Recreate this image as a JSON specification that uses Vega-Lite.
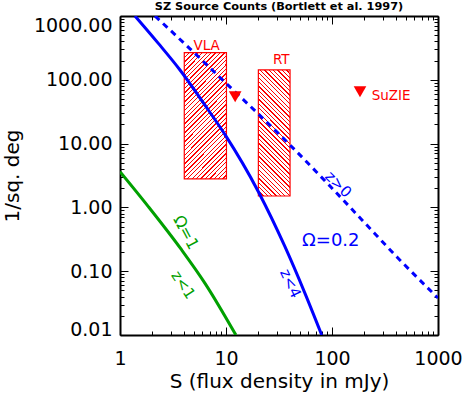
{
"$schema": "https://vega.github.io/schema/vega-lite/v6.json",
"width": 318, "height": 319,
"autosize": {"type": "none"},
"padding": {"left": 120, "top": 16, "right": 25, "bottom": 59},
"background": "white",
"config": {"view": {"stroke": null}, "font": "DejaVu Sans"},
"title": {"text": "SZ Source Counts (Bortlett et al. 1997)", "font": "DejaVu Sans", "fontSize": 11.3, "fontWeight": "bold", "color": "black", "anchor": "middle", "frame": "group", "baseline": "alphabetic", "offset": 4, "dy": 15},
"resolve": {"axis": {"x": "independent", "y": "independent"}},
"datasets": {
 "boxes": [
  {"box": "VLA", "S": 4.04, "S2": 10.1, "N": 2.79, "N2": 266},
  {"box": "RT", "S": 20.2, "S2": 40.2, "N": 1.51, "N2": 142.6}
 ],
 "curves": [
  {"series": "omega02", "S": 1.385, "N": 1000},
  {"series": "omega02", "S": 2.30, "N": 372},
  {"series": "omega02", "S": 3.68, "N": 142.6},
  {"series": "omega02", "S": 6.81, "N": 33.6},
  {"series": "omega02", "S": 9.79, "N": 13.8},
  {"series": "omega02", "S": 20.2, "N": 1.76},
  {"series": "omega02", "S": 36.0, "N": 0.242},
  {"series": "omega02", "S": 55.6, "N": 0.045},
  {"series": "omega02", "S": 80, "N": 0.01},
  {"series": "z0", "S": 2.14, "N": 1000},
  {"series": "z0", "S": 4.58, "N": 306},
  {"series": "z0", "S": 8.78, "N": 108.6},
  {"series": "z0", "S": 20.0, "N": 29.5},
  {"series": "z0", "S": 40.2, "N": 9.5},
  {"series": "z0", "S": 95.7, "N": 2.16},
  {"series": "z0", "S": 196, "N": 0.612},
  {"series": "z0", "S": 410, "N": 0.167},
  {"series": "z0", "S": 1000, "N": 0.038},
  {"series": "omega1", "S": 1, "N": 3.63},
  {"series": "omega1", "S": 1.85, "N": 1.03},
  {"series": "omega1", "S": 3.82, "N": 0.215},
  {"series": "omega1", "S": 6.34, "N": 0.0646},
  {"series": "omega1", "S": 12.4, "N": 0.01}
 ],
 "points": [
  {"S": 12.2, "N": 54.2},
  {"S": 183.7, "N": 64.9}
 ],
 "labels": [
  {"label": "VLA", "S": 6.57, "N": 343},
  {"label": "RT", "S": 33.2, "N": 207},
  {"label": "SuZIE", "S": 237, "N": 55.7},
  {"label": "Ω=0.2", "S": 97.4, "N": 0.297},
  {"label": "z>0", "S": 114.7, "N": 2.30},
  {"label": "z<4", "S": 40.6, "N": 0.064},
  {"label": "Ω=1", "S": 4.18, "N": 0.404},
  {"label": "z<1", "S": 3.96, "N": 0.0608}
 ]
},
"layer": [
 {
  "data": {"name": "boxes"},
  "transform": [{"filter": "datum.box == 'VLA'"}],
  "mark": {"type": "rect", "stroke": "#f00", "strokeWidth": 1.2, "fill": {"gradient": "linear", "x1": 0, "y1": 0, "x2": 0.403, "y2": 1.2, "stops": [
{"offset":0,"color":"#f00"},{"offset":0.0079,"color":"#f00"},{"offset":0.0079,"color":"#fff"},{"offset":0.0263,"color":"#fff"},
{"offset":0.0263,"color":"#f00"},{"offset":0.0342,"color":"#f00"},{"offset":0.0342,"color":"#fff"},{"offset":0.0526,"color":"#fff"},
{"offset":0.0526,"color":"#f00"},{"offset":0.0605,"color":"#f00"},{"offset":0.0605,"color":"#fff"},{"offset":0.0789,"color":"#fff"},
{"offset":0.0789,"color":"#f00"},{"offset":0.0868,"color":"#f00"},{"offset":0.0868,"color":"#fff"},{"offset":0.1053,"color":"#fff"},
{"offset":0.1053,"color":"#f00"},{"offset":0.1132,"color":"#f00"},{"offset":0.1132,"color":"#fff"},{"offset":0.1316,"color":"#fff"},
{"offset":0.1316,"color":"#f00"},{"offset":0.1395,"color":"#f00"},{"offset":0.1395,"color":"#fff"},{"offset":0.1579,"color":"#fff"},
{"offset":0.1579,"color":"#f00"},{"offset":0.1658,"color":"#f00"},{"offset":0.1658,"color":"#fff"},{"offset":0.1842,"color":"#fff"},
{"offset":0.1842,"color":"#f00"},{"offset":0.1921,"color":"#f00"},{"offset":0.1921,"color":"#fff"},{"offset":0.2105,"color":"#fff"},
{"offset":0.2105,"color":"#f00"},{"offset":0.2184,"color":"#f00"},{"offset":0.2184,"color":"#fff"},{"offset":0.2368,"color":"#fff"},
{"offset":0.2368,"color":"#f00"},{"offset":0.2447,"color":"#f00"},{"offset":0.2447,"color":"#fff"},{"offset":0.2632,"color":"#fff"},
{"offset":0.2632,"color":"#f00"},{"offset":0.2711,"color":"#f00"},{"offset":0.2711,"color":"#fff"},{"offset":0.2895,"color":"#fff"},
{"offset":0.2895,"color":"#f00"},{"offset":0.2974,"color":"#f00"},{"offset":0.2974,"color":"#fff"},{"offset":0.3158,"color":"#fff"},
{"offset":0.3158,"color":"#f00"},{"offset":0.3237,"color":"#f00"},{"offset":0.3237,"color":"#fff"},{"offset":0.3421,"color":"#fff"},
{"offset":0.3421,"color":"#f00"},{"offset":0.35,"color":"#f00"},{"offset":0.35,"color":"#fff"},{"offset":0.3684,"color":"#fff"},
{"offset":0.3684,"color":"#f00"},{"offset":0.3763,"color":"#f00"},{"offset":0.3763,"color":"#fff"},{"offset":0.3947,"color":"#fff"},
{"offset":0.3947,"color":"#f00"},{"offset":0.4026,"color":"#f00"},{"offset":0.4026,"color":"#fff"},{"offset":0.4211,"color":"#fff"},
{"offset":0.4211,"color":"#f00"},{"offset":0.429,"color":"#f00"},{"offset":0.429,"color":"#fff"},{"offset":0.4474,"color":"#fff"},
{"offset":0.4474,"color":"#f00"},{"offset":0.4553,"color":"#f00"},{"offset":0.4553,"color":"#fff"},{"offset":0.4737,"color":"#fff"},
{"offset":0.4737,"color":"#f00"},{"offset":0.4816,"color":"#f00"},{"offset":0.4816,"color":"#fff"},{"offset":0.5,"color":"#fff"},
{"offset":0.5,"color":"#f00"},{"offset":0.5079,"color":"#f00"},{"offset":0.5079,"color":"#fff"},{"offset":0.5263,"color":"#fff"},
{"offset":0.5263,"color":"#f00"},{"offset":0.5342,"color":"#f00"},{"offset":0.5342,"color":"#fff"},{"offset":0.5526,"color":"#fff"},
{"offset":0.5526,"color":"#f00"},{"offset":0.5605,"color":"#f00"},{"offset":0.5605,"color":"#fff"},{"offset":0.5789,"color":"#fff"},
{"offset":0.5789,"color":"#f00"},{"offset":0.5868,"color":"#f00"},{"offset":0.5868,"color":"#fff"},{"offset":0.6053,"color":"#fff"},
{"offset":0.6053,"color":"#f00"},{"offset":0.6132,"color":"#f00"},{"offset":0.6132,"color":"#fff"},{"offset":0.6316,"color":"#fff"},
{"offset":0.6316,"color":"#f00"},{"offset":0.6395,"color":"#f00"},{"offset":0.6395,"color":"#fff"},{"offset":0.6579,"color":"#fff"},
{"offset":0.6579,"color":"#f00"},{"offset":0.6658,"color":"#f00"},{"offset":0.6658,"color":"#fff"},{"offset":0.6842,"color":"#fff"},
{"offset":0.6842,"color":"#f00"},{"offset":0.6921,"color":"#f00"},{"offset":0.6921,"color":"#fff"},{"offset":0.7105,"color":"#fff"},
{"offset":0.7105,"color":"#f00"},{"offset":0.7184,"color":"#f00"},{"offset":0.7184,"color":"#fff"},{"offset":0.7368,"color":"#fff"},
{"offset":0.7368,"color":"#f00"},{"offset":0.7447,"color":"#f00"},{"offset":0.7447,"color":"#fff"},{"offset":0.7632,"color":"#fff"},
{"offset":0.7632,"color":"#f00"},{"offset":0.7711,"color":"#f00"},{"offset":0.7711,"color":"#fff"},{"offset":0.7895,"color":"#fff"},
{"offset":0.7895,"color":"#f00"},{"offset":0.7974,"color":"#f00"},{"offset":0.7974,"color":"#fff"},{"offset":0.8158,"color":"#fff"},
{"offset":0.8158,"color":"#f00"},{"offset":0.8237,"color":"#f00"},{"offset":0.8237,"color":"#fff"},{"offset":0.8421,"color":"#fff"},
{"offset":0.8421,"color":"#f00"},{"offset":0.85,"color":"#f00"},{"offset":0.85,"color":"#fff"},{"offset":0.8684,"color":"#fff"},
{"offset":0.8684,"color":"#f00"},{"offset":0.8763,"color":"#f00"},{"offset":0.8763,"color":"#fff"},{"offset":0.8947,"color":"#fff"},
{"offset":0.8947,"color":"#f00"},{"offset":0.9026,"color":"#f00"},{"offset":0.9026,"color":"#fff"},{"offset":0.9211,"color":"#fff"},
{"offset":0.9211,"color":"#f00"},{"offset":0.929,"color":"#f00"},{"offset":0.929,"color":"#fff"},{"offset":0.9474,"color":"#fff"},
{"offset":0.9474,"color":"#f00"},{"offset":0.9553,"color":"#f00"},{"offset":0.9553,"color":"#fff"},{"offset":0.9737,"color":"#fff"},
{"offset":0.9737,"color":"#f00"},{"offset":0.9816,"color":"#f00"},{"offset":0.9816,"color":"#fff"},{"offset":1,"color":"#fff"}
  ]}},
  "encoding": {
   "x": {"field": "S", "type": "quantitative", "scale": {"type": "log", "domain": [1, 1000], "nice": false}, "axis": null},
   "x2": {"field": "S2"},
   "y": {"field": "N", "type": "quantitative", "scale": {"type": "log", "domain": [0.01, 1000], "nice": false}, "axis": null},
   "y2": {"field": "N2"}
  }
 },
 {
  "data": {"name": "boxes"},
  "transform": [{"filter": "datum.box == 'RT'"}],
  "mark": {"type": "rect", "stroke": "#f00", "strokeWidth": 1.2, "fill": {"gradient": "linear", "x1": 0, "y1": 1, "x2": 0.296, "y2": -0.177, "stops": [
{"offset":0,"color":"#f00"},{"offset":0.0083,"color":"#f00"},{"offset":0.0083,"color":"#fff"},{"offset":0.0278,"color":"#fff"},
{"offset":0.0278,"color":"#f00"},{"offset":0.0361,"color":"#f00"},{"offset":0.0361,"color":"#fff"},{"offset":0.0556,"color":"#fff"},
{"offset":0.0556,"color":"#f00"},{"offset":0.0639,"color":"#f00"},{"offset":0.0639,"color":"#fff"},{"offset":0.0833,"color":"#fff"},
{"offset":0.0833,"color":"#f00"},{"offset":0.0916,"color":"#f00"},{"offset":0.0916,"color":"#fff"},{"offset":0.1111,"color":"#fff"},
{"offset":0.1111,"color":"#f00"},{"offset":0.1194,"color":"#f00"},{"offset":0.1194,"color":"#fff"},{"offset":0.1389,"color":"#fff"},
{"offset":0.1389,"color":"#f00"},{"offset":0.1472,"color":"#f00"},{"offset":0.1472,"color":"#fff"},{"offset":0.1667,"color":"#fff"},
{"offset":0.1667,"color":"#f00"},{"offset":0.175,"color":"#f00"},{"offset":0.175,"color":"#fff"},{"offset":0.1944,"color":"#fff"},
{"offset":0.1944,"color":"#f00"},{"offset":0.2027,"color":"#f00"},{"offset":0.2027,"color":"#fff"},{"offset":0.2222,"color":"#fff"},
{"offset":0.2222,"color":"#f00"},{"offset":0.2305,"color":"#f00"},{"offset":0.2305,"color":"#fff"},{"offset":0.25,"color":"#fff"},
{"offset":0.25,"color":"#f00"},{"offset":0.2583,"color":"#f00"},{"offset":0.2583,"color":"#fff"},{"offset":0.2778,"color":"#fff"},
{"offset":0.2778,"color":"#f00"},{"offset":0.2861,"color":"#f00"},{"offset":0.2861,"color":"#fff"},{"offset":0.3056,"color":"#fff"},
{"offset":0.3056,"color":"#f00"},{"offset":0.3139,"color":"#f00"},{"offset":0.3139,"color":"#fff"},{"offset":0.3333,"color":"#fff"},
{"offset":0.3333,"color":"#f00"},{"offset":0.3416,"color":"#f00"},{"offset":0.3416,"color":"#fff"},{"offset":0.3611,"color":"#fff"},
{"offset":0.3611,"color":"#f00"},{"offset":0.3694,"color":"#f00"},{"offset":0.3694,"color":"#fff"},{"offset":0.3889,"color":"#fff"},
{"offset":0.3889,"color":"#f00"},{"offset":0.3972,"color":"#f00"},{"offset":0.3972,"color":"#fff"},{"offset":0.4167,"color":"#fff"},
{"offset":0.4167,"color":"#f00"},{"offset":0.425,"color":"#f00"},{"offset":0.425,"color":"#fff"},{"offset":0.4444,"color":"#fff"},
{"offset":0.4444,"color":"#f00"},{"offset":0.4527,"color":"#f00"},{"offset":0.4527,"color":"#fff"},{"offset":0.4722,"color":"#fff"},
{"offset":0.4722,"color":"#f00"},{"offset":0.4805,"color":"#f00"},{"offset":0.4805,"color":"#fff"},{"offset":0.5,"color":"#fff"},
{"offset":0.5,"color":"#f00"},{"offset":0.5083,"color":"#f00"},{"offset":0.5083,"color":"#fff"},{"offset":0.5278,"color":"#fff"},
{"offset":0.5278,"color":"#f00"},{"offset":0.5361,"color":"#f00"},{"offset":0.5361,"color":"#fff"},{"offset":0.5556,"color":"#fff"},
{"offset":0.5556,"color":"#f00"},{"offset":0.5639,"color":"#f00"},{"offset":0.5639,"color":"#fff"},{"offset":0.5833,"color":"#fff"},
{"offset":0.5833,"color":"#f00"},{"offset":0.5916,"color":"#f00"},{"offset":0.5916,"color":"#fff"},{"offset":0.6111,"color":"#fff"},
{"offset":0.6111,"color":"#f00"},{"offset":0.6194,"color":"#f00"},{"offset":0.6194,"color":"#fff"},{"offset":0.6389,"color":"#fff"},
{"offset":0.6389,"color":"#f00"},{"offset":0.6472,"color":"#f00"},{"offset":0.6472,"color":"#fff"},{"offset":0.6667,"color":"#fff"},
{"offset":0.6667,"color":"#f00"},{"offset":0.675,"color":"#f00"},{"offset":0.675,"color":"#fff"},{"offset":0.6944,"color":"#fff"},
{"offset":0.6944,"color":"#f00"},{"offset":0.7027,"color":"#f00"},{"offset":0.7027,"color":"#fff"},{"offset":0.7222,"color":"#fff"},
{"offset":0.7222,"color":"#f00"},{"offset":0.7305,"color":"#f00"},{"offset":0.7305,"color":"#fff"},{"offset":0.75,"color":"#fff"},
{"offset":0.75,"color":"#f00"},{"offset":0.7583,"color":"#f00"},{"offset":0.7583,"color":"#fff"},{"offset":0.7778,"color":"#fff"},
{"offset":0.7778,"color":"#f00"},{"offset":0.7861,"color":"#f00"},{"offset":0.7861,"color":"#fff"},{"offset":0.8056,"color":"#fff"},
{"offset":0.8056,"color":"#f00"},{"offset":0.8139,"color":"#f00"},{"offset":0.8139,"color":"#fff"},{"offset":0.8333,"color":"#fff"},
{"offset":0.8333,"color":"#f00"},{"offset":0.8416,"color":"#f00"},{"offset":0.8416,"color":"#fff"},{"offset":0.8611,"color":"#fff"},
{"offset":0.8611,"color":"#f00"},{"offset":0.8694,"color":"#f00"},{"offset":0.8694,"color":"#fff"},{"offset":0.8889,"color":"#fff"},
{"offset":0.8889,"color":"#f00"},{"offset":0.8972,"color":"#f00"},{"offset":0.8972,"color":"#fff"},{"offset":0.9167,"color":"#fff"},
{"offset":0.9167,"color":"#f00"},{"offset":0.925,"color":"#f00"},{"offset":0.925,"color":"#fff"},{"offset":0.9444,"color":"#fff"},
{"offset":0.9444,"color":"#f00"},{"offset":0.9527,"color":"#f00"},{"offset":0.9527,"color":"#fff"},{"offset":0.9722,"color":"#fff"},
{"offset":0.9722,"color":"#f00"},{"offset":0.9805,"color":"#f00"},{"offset":0.9805,"color":"#fff"},{"offset":1,"color":"#fff"}
  ]}},
  "encoding": {
   "x": {"field": "S", "type": "quantitative", "scale": {"type": "log", "domain": [1, 1000], "nice": false}, "axis": null},
   "x2": {"field": "S2"},
   "y": {"field": "N", "type": "quantitative", "scale": {"type": "log", "domain": [0.01, 1000], "nice": false}, "axis": null},
   "y2": {"field": "N2"}
  }
 },
 {
  "data": {"name": "curves"},
  "transform": [{"filter": "datum.series == 'omega02'"}],
  "mark": {"type": "line", "color": "#0000ff", "strokeWidth": 3, "interpolate": "monotone", "clip": true},
  "encoding": {
   "x": {"field": "S", "type": "quantitative", "scale": {"type": "log", "domain": [1, 1000], "nice": false},
    "axis": {"orient": "bottom",
     "values": [1,2,3,4,5,6,7,8,9,10,20,30,40,50,60,70,80,90,100,200,300,400,500,600,700,800,900,1000],
     "labelExpr": "indexof([1,10,100,1000], datum.value) >= 0 ? '' + datum.value : ''",
     "labelOverlap": false, "labelFlush": false, "labelFont": "DejaVu Sans", "labelFontSize": 19, "labelColor": "black", "labelPadding": 22,
     "tickSize": {"condition": {"test": "indexof([1,10,100,1000], datum.value) >= 0", "value": -8}, "value": -4},
     "tickColor": "black", "tickWidth": 1, "domainColor": "black", "domainWidth": 2, "grid": false,
     "title": "S (flux density in mJy)", "titleFont": "DejaVu Sans", "titleFontSize": 20, "titleFontWeight": "normal", "titleColor": "black",
     "titleBaseline": "alphabetic", "titleAlign": "center", "titleX": 159, "titleY": 52}},
   "y": {"field": "N", "type": "quantitative", "scale": {"type": "log", "domain": [0.01, 1000], "nice": false},
    "axis": {"orient": "left",
     "values": [0.01,0.02,0.03,0.04,0.05,0.06,0.07,0.08,0.09,0.1,0.2,0.3,0.4,0.5,0.6,0.7,0.8,0.9,1,2,3,4,5,6,7,8,9,10,20,30,40,50,60,70,80,90,100,200,300,400,500,600,700,800,900,1000],
     "labelExpr": "indexof([0.01,0.1,1,10,100,1000], datum.value) >= 0 ? format(datum.value, '.2f') : ''",
     "labelOverlap": false, "labelFlush": false, "labelFont": "DejaVu Sans", "labelFontSize": 19, "labelColor": "black", "labelPadding": 16,
     "labelBaseline": {"condition": [{"test": "datum.value == 1000", "value": "top"}, {"test": "datum.value == 0.01", "value": "alphabetic"}], "value": "middle"},
     "tickSize": {"condition": {"test": "indexof([0.01,0.1,1,10,100,1000], datum.value) >= 0", "value": -8}, "value": -4},
     "tickColor": "black", "tickWidth": 1, "domainColor": "black", "domainWidth": 2, "grid": false,
     "title": "1/sq. deg", "titleFont": "DejaVu Sans", "titleFontSize": 20, "titleFontWeight": "normal", "titleColor": "black",
     "titleAngle": -90, "titleBaseline": "alphabetic", "titleAlign": "center", "titleX": -102, "titleY": 159.5}}
  }
 },
 {
  "data": {"name": "curves"},
  "transform": [{"filter": "datum.series == 'z0'"}],
  "mark": {"type": "line", "color": "#0000ff", "strokeWidth": 3, "strokeDash": [6, 5], "interpolate": "monotone", "clip": true},
  "encoding": {
   "x": {"field": "S", "type": "quantitative", "scale": {"type": "log", "domain": [1, 1000], "nice": false},
    "axis": {"orient": "top",
     "values": [1,2,3,4,5,6,7,8,9,10,20,30,40,50,60,70,80,90,100,200,300,400,500,600,700,800,900,1000],
     "labels": false,
     "tickSize": {"condition": {"test": "indexof([1,10,100,1000], datum.value) >= 0", "value": -8}, "value": -4},
     "tickColor": "black", "tickWidth": 1, "domainColor": "black", "domainWidth": 2, "grid": false, "title": null}},
   "y": {"field": "N", "type": "quantitative", "scale": {"type": "log", "domain": [0.01, 1000], "nice": false},
    "axis": {"orient": "right",
     "values": [0.01,0.02,0.03,0.04,0.05,0.06,0.07,0.08,0.09,0.1,0.2,0.3,0.4,0.5,0.6,0.7,0.8,0.9,1,2,3,4,5,6,7,8,9,10,20,30,40,50,60,70,80,90,100,200,300,400,500,600,700,800,900,1000],
     "labels": false,
     "tickSize": {"condition": {"test": "indexof([0.01,0.1,1,10,100,1000], datum.value) >= 0", "value": -8}, "value": -4},
     "tickColor": "black", "tickWidth": 1, "domainColor": "black", "domainWidth": 2, "grid": false, "title": null}}
  }
 },
 {
  "data": {"name": "curves"},
  "transform": [{"filter": "datum.series == 'omega1'"}],
  "mark": {"type": "line", "color": "#00a000", "strokeWidth": 3, "interpolate": "monotone", "clip": true},
  "encoding": {
   "x": {"field": "S", "type": "quantitative", "scale": {"type": "log", "domain": [1, 1000], "nice": false}, "axis": null},
   "y": {"field": "N", "type": "quantitative", "scale": {"type": "log", "domain": [0.01, 1000], "nice": false}, "axis": null}
  }
 },
 {
  "data": {"name": "points"},
  "mark": {"type": "point", "shape": "triangle-down", "filled": true, "color": "#f00", "size": 160, "opacity": 1, "strokeWidth": 0},
  "encoding": {
   "x": {"field": "S", "type": "quantitative", "scale": {"type": "log", "domain": [1, 1000], "nice": false}, "axis": null},
   "y": {"field": "N", "type": "quantitative", "scale": {"type": "log", "domain": [0.01, 1000], "nice": false}, "axis": null}
  }
 },
 {
  "data": {"name": "labels"},
  "transform": [{"filter": {"field": "label", "oneOf": ["VLA", "RT"]}}],
  "mark": {"type": "text", "color": "#f00", "font": "DejaVu Sans", "fontSize": 13.5, "align": "center", "baseline": "middle"},
  "encoding": {
   "x": {"field": "S", "type": "quantitative", "scale": {"type": "log", "domain": [1, 1000], "nice": false}, "axis": null},
   "y": {"field": "N", "type": "quantitative", "scale": {"type": "log", "domain": [0.01, 1000], "nice": false}, "axis": null},
   "text": {"field": "label"}
  }
 },
 {
  "data": {"name": "labels"},
  "transform": [{"filter": {"field": "label", "oneOf": ["SuZIE"]}}],
  "mark": {"type": "text", "color": "#f00", "font": "DejaVu Sans", "fontSize": 13.5, "align": "left", "baseline": "middle"},
  "encoding": {
   "x": {"field": "S", "type": "quantitative", "scale": {"type": "log", "domain": [1, 1000], "nice": false}, "axis": null},
   "y": {"field": "N", "type": "quantitative", "scale": {"type": "log", "domain": [0.01, 1000], "nice": false}, "axis": null},
   "text": {"field": "label"}
  }
 },
 {
  "data": {"name": "labels"},
  "transform": [{"filter": {"field": "label", "oneOf": ["Ω=0.2"]}}],
  "mark": {"type": "text", "color": "#0000ff", "font": "DejaVu Sans", "fontSize": 18, "align": "center", "baseline": "middle"},
  "encoding": {
   "x": {"field": "S", "type": "quantitative", "scale": {"type": "log", "domain": [1, 1000], "nice": false}, "axis": null},
   "y": {"field": "N", "type": "quantitative", "scale": {"type": "log", "domain": [0.01, 1000], "nice": false}, "axis": null},
   "text": {"field": "label"}
  }
 },
 {
  "data": {"name": "labels"},
  "transform": [{"filter": {"field": "label", "oneOf": ["z>0"]}}],
  "mark": {"type": "text", "color": "#0000ff", "font": "DejaVu Sans", "fontSize": 15, "align": "center", "baseline": "middle", "angle": 45},
  "encoding": {
   "x": {"field": "S", "type": "quantitative", "scale": {"type": "log", "domain": [1, 1000], "nice": false}, "axis": null},
   "y": {"field": "N", "type": "quantitative", "scale": {"type": "log", "domain": [0.01, 1000], "nice": false}, "axis": null},
   "text": {"field": "label"}
  }
 },
 {
  "data": {"name": "labels"},
  "transform": [{"filter": {"field": "label", "oneOf": ["z<4"]}}],
  "mark": {"type": "text", "color": "#0000ff", "font": "DejaVu Sans", "fontSize": 15, "align": "center", "baseline": "middle", "angle": 65},
  "encoding": {
   "x": {"field": "S", "type": "quantitative", "scale": {"type": "log", "domain": [1, 1000], "nice": false}, "axis": null},
   "y": {"field": "N", "type": "quantitative", "scale": {"type": "log", "domain": [0.01, 1000], "nice": false}, "axis": null},
   "text": {"field": "label"}
  }
 },
 {
  "data": {"name": "labels"},
  "transform": [{"filter": {"field": "label", "oneOf": ["Ω=1"]}}],
  "mark": {"type": "text", "color": "#00a000", "font": "DejaVu Sans", "fontSize": 16, "align": "center", "baseline": "middle", "angle": 62},
  "encoding": {
   "x": {"field": "S", "type": "quantitative", "scale": {"type": "log", "domain": [1, 1000], "nice": false}, "axis": null},
   "y": {"field": "N", "type": "quantitative", "scale": {"type": "log", "domain": [0.01, 1000], "nice": false}, "axis": null},
   "text": {"field": "label"}
  }
 },
 {
  "data": {"name": "labels"},
  "transform": [{"filter": {"field": "label", "oneOf": ["z<1"]}}],
  "mark": {"type": "text", "color": "#00a000", "font": "DejaVu Sans", "fontSize": 15, "align": "center", "baseline": "middle", "angle": 56},
  "encoding": {
   "x": {"field": "S", "type": "quantitative", "scale": {"type": "log", "domain": [1, 1000], "nice": false}, "axis": null},
   "y": {"field": "N", "type": "quantitative", "scale": {"type": "log", "domain": [0.01, 1000], "nice": false}, "axis": null},
   "text": {"field": "label"}
  }
 }
]
}
